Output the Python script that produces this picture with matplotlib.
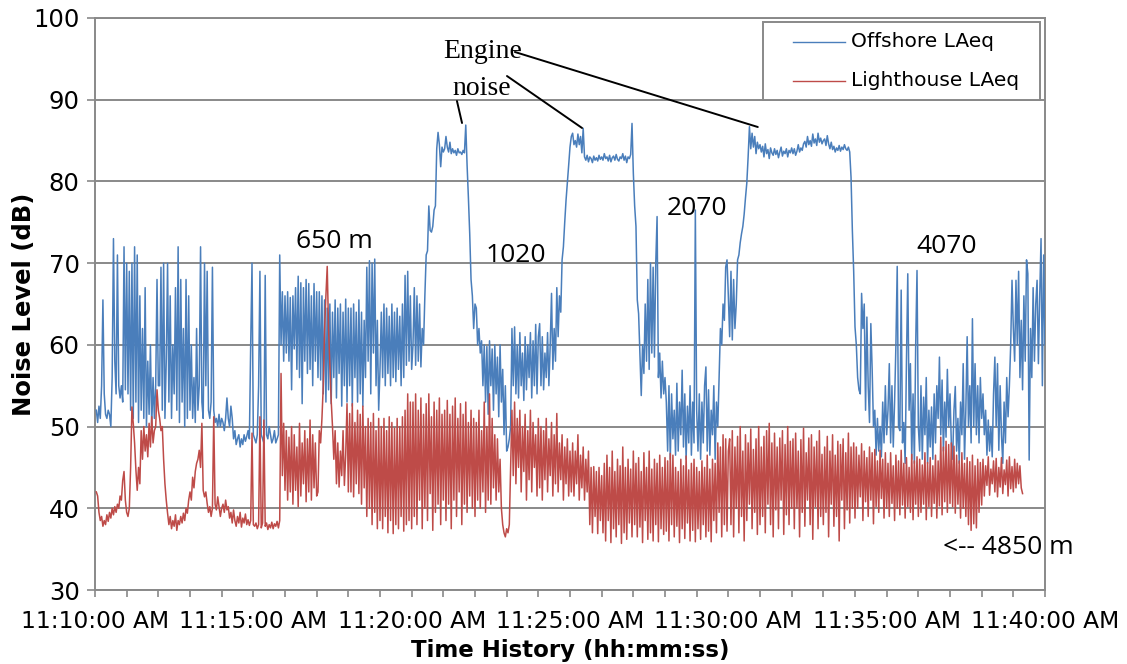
import matplotlib
matplotlib.use("Agg")
import matplotlib.pyplot as plt
import matplotlib.dates as mdates
from matplotlib.patches import Rectangle
from matplotlib.lines import Line2D
import pandas as pd

# ---------------- data (one row = one minute, 2.5 s steps) ----------------
start_time = "2013-01-01 11:10:02.5"
sample_step = "2500ms"

offshore_laeq = [
    52, 50.5, 52.5, 51, 55, 65.5, 54, 51.5, 51, 52, 51.5, 50, 56, 73, 58, 54, 71, 55, 53.5, 55, 53, 72, 54.5, 70,
    54, 69, 52, 70, 51, 72, 53, 71, 50.5, 66, 52, 62, 51, 67, 50, 58, 51.5, 60, 50, 56, 51, 55, 68, 55,
    55, 69.5, 52, 70, 51, 58, 70, 53, 66, 51, 60, 54, 67, 52, 72, 50.5, 68, 53, 62, 50, 68, 51, 66, 52,
    60, 51, 56, 50.5, 62, 52, 55, 72, 53, 51, 70, 55, 69, 52, 51, 53, 69.5, 52, 50.5, 51, 50, 51.5, 50, 51,
    50.5, 49.5, 51, 53.5, 51, 50, 52.5, 51, 48.5, 49.5, 47.8, 48.5, 49, 47.5, 48.5, 47.8, 49, 48.2, 48.8, 49.5, 48.5, 60, 70, 49,
    48.5, 48, 49, 55, 69, 49, 48.5, 48, 68.5, 49, 48.5, 50, 49, 48, 48.5, 49.5, 48, 48.5, 49, 71, 60, 66.5, 58, 66,
    59, 66.5, 58, 65.8, 54.5, 66, 59.5, 67, 57, 68.4, 56, 67.6, 52.8, 67, 58, 68, 56.5, 67.5, 57, 66, 55, 67.5, 58, 66.5,
    56, 66.5, 55.7, 66, 54, 65.5, 53, 64.5, 54.5, 65, 52.8, 64, 56, 65.5, 53.5, 64.5, 56.5, 65, 52.5, 64, 55, 65.6, 53, 64.5,
    55, 64.5, 52.5, 65, 56, 64, 53, 65.5, 54, 64, 52.5, 63, 56, 69.5, 58, 70.3, 54, 70, 59, 70.5, 55, 63, 52, 57,
    64, 56, 65, 55, 64.5, 56.5, 63.5, 55, 65, 56, 64, 55.5, 64.5, 57, 63.5, 55, 65, 56, 68.5, 57.5, 69, 58, 66, 57,
    60, 67, 57.5, 66, 58, 65, 57.3, 62, 60, 66, 71, 71.5, 77, 74, 73.8, 74.5, 76.5, 77, 84, 86, 84.5, 81.8, 84.2, 83.6,
    84, 85.5, 84.2, 83.6, 84.8, 83.4, 84, 83.5, 83.8, 83.2, 84, 83.5, 83.6, 83.3, 83.8, 83.5, 86.9, 82, 78, 73.6, 68, 66, 62, 65,
    64.5, 60, 62, 59, 60.5, 55, 60, 53, 59.8, 51.5, 60.5, 55, 59.5, 52, 60, 54, 58.5, 51.2, 60, 53, 57, 49, 55, 47,
    47.5, 48.5, 50, 62, 55, 62.2, 54, 60, 53.5, 61.5, 55, 59, 53.2, 61, 54.5, 60, 56, 61.5, 53.5, 60.5, 55, 62.5, 54, 61,
    62.6, 55, 61, 54.5, 59, 56, 61.5, 55, 60, 66.3, 57, 62, 58, 67, 61, 66, 64, 70.4, 72, 75, 77.7, 79.8, 82, 84.2,
    85.5, 85.9, 84.5, 85, 84.2, 85.8, 84.5, 85.5, 83.5, 86.5, 83, 82.6, 83.2, 82.4, 83, 82.8, 82.3, 83.1, 82.6, 82.9, 82.5, 83.2, 82.7, 83,
    82.6, 83.4, 82.8, 83, 82.5, 83.2, 82.4, 82.9, 83.1, 82.6, 83.3, 82.7, 82.5, 83, 82.8, 83.4, 82.6, 83.1, 82.3, 83, 82.8, 83.3, 87.1, 81,
    77, 74.5, 65.5, 63.8, 59, 53.8, 60, 56.5, 65, 58, 68, 57, 70, 59, 69.5, 58.5, 70, 75.7, 56, 59, 53.5, 58, 54, 56,
    53, 47, 55, 46, 54, 48.5, 52, 46.5, 55.3, 47, 53, 49, 56.9, 47.5, 54, 46, 52.5, 48, 55, 46.5, 53, 48, 76.5, 52,
    47, 54, 46, 53, 48, 55, 57.3, 47, 54.5, 46.5, 52, 49, 55, 46, 53, 50, 56, 62, 60, 65, 63, 69.5, 70.4, 66,
    61, 69, 60.6, 68, 62, 65, 70.4, 71, 72.5, 73.6, 74.5, 76, 78, 79.8, 83, 86.7, 84, 85.9, 84.2, 85.5, 83.4, 84.8, 84, 84.5,
    83.6, 84.3, 83, 84.6, 83.4, 83.9, 82.8, 84.1, 83.5, 83.2, 84, 83.3, 83.8, 82.9, 83.6, 84.2, 83.1, 83.7, 83.4, 84, 83, 83.8, 83.5, 84.1,
    83.4, 84, 83.2, 83.7, 84.5, 83.6, 84.1, 83.8, 84.6, 84.9, 84.2, 85.5, 84.5, 85, 84.3, 85.8, 84.7, 85.2, 84.4, 85.9, 84.8, 85.3, 84.6, 85,
    85.2, 84.4, 85.6, 84.6, 84, 84.8, 83.9, 84.3, 83.6, 84.1, 83.8, 84.4, 83.7, 84.2, 83.9, 84.5, 84, 83.8, 84.2, 83.6, 80.5, 74, 69, 62.2,
    60, 56, 54.5, 54, 66.3, 62, 65, 52, 63.4, 55, 50.5, 62.6, 57, 50, 52, 46.5, 51, 47, 50, 46.3, 53, 48, 55, 49,
    52, 57.7, 48, 55, 47.5, 53, 60, 69.6, 50, 49.5, 66.7, 48, 50.5, 45.5, 58, 68.7, 52, 57.7, 46, 54, 45.5, 60, 69.1, 50,
    47, 55, 46, 53.6, 49, 56, 45.5, 52, 47.5, 52.4, 46, 54, 48, 55, 51, 58.5, 49, 55.7, 47, 53, 48.7, 57, 50, 54,
    48, 46, 52, 54.9, 47, 51, 45.5, 53, 49, 57.7, 46, 52, 61, 50, 55, 48, 63.2, 50, 57.7, 49, 55, 48, 56, 51,
    54, 49, 52, 46.5, 50.8, 47, 50, 46.3, 54, 58.5, 50, 57.7, 47.1, 55, 49, 45.5, 53, 48, 56, 51.2, 55, 60, 67.9, 62,
    58, 67.9, 60, 69, 56, 63, 54.5, 66, 58, 70.4, 68.7, 45.9, 62, 56, 67, 58, 65, 67.9, 57.7, 66, 73, 55, 71, 60,
]

lighthouse_laeq = [
    42, 41.5, 39.5, 38.5, 39, 37.8, 38.5, 38, 39.2, 38.4, 39.5, 38.8, 40, 39.2, 40.2, 39.5, 40.5, 40, 41.5, 41, 43.4, 44.5, 41, 39.5,
    39, 40, 45, 52.4, 50.4, 48, 44.7, 42.2, 45, 43, 49.5, 46, 50, 47, 49, 46.3, 50.4, 47.5, 51.2, 48, 49.5, 50, 54.5, 52,
    51, 49.5, 50, 46, 43, 41, 39.4, 38, 39, 37.5, 38.5, 37.8, 39.2, 37.3, 38.5, 38, 39, 38.2, 39.4, 38.5, 40, 39.4, 41, 42,
    41, 43.8, 42.5, 44.5, 45.5, 46, 47.1, 45, 50.4, 42.2, 41.4, 42, 40.6, 39.5, 40.2, 39, 40, 51.2, 40.5, 39.8, 41.4, 40.2, 39, 40,
    40.5, 39.5, 41, 39.8, 40.2, 38.8, 39.5, 38.2, 39.8, 38.5, 37.8, 39, 38.2, 39.5, 37.7, 38.8, 38.2, 39.3, 38, 38.6, 37.9, 38.5, 49.2, 38,
    37.8, 38.2, 37.5, 38, 51.2, 37.6, 38.2, 50.8, 37.8, 38.2, 37.4, 38, 37.6, 38.3, 37.5, 38.1, 37.8, 38.4, 37.6, 38.5, 56.5, 44, 50.4, 42.2,
    49.5, 41, 48.7, 42, 50, 40.5, 49, 42.2, 47.5, 40.2, 50.4, 41.5, 48, 43, 49.5, 40.8, 48.5, 42, 50.8, 41, 49, 42.5, 48, 41.5,
    42, 49.5, 48, 51, 55, 61.8, 66, 69.6, 62, 57.7, 53.2, 50, 46, 49.5, 43, 48, 42.6, 47, 44, 49.5, 42.8, 46.5, 52.8, 42,
    51.6, 42, 52.8, 41.4, 50.5, 43, 52, 41.8, 51.5, 40.5, 52.5, 42.5, 50, 39, 51, 40, 50.5, 38, 51.6, 39.5, 49.5, 37.5, 51, 38.5,
    50, 37.5, 51, 39, 49.5, 37, 51.2, 38.5, 50.5, 36.9, 49.8, 38, 51, 37.5, 50, 39, 51.2, 37.2, 52, 38, 54, 38.5, 53, 37.5,
    53, 39, 54, 38, 52, 41, 53.5, 37.5, 51.5, 40, 52.8, 38.5, 54, 41.8, 51.2, 37.3, 53, 39.5, 52, 40.5, 53.5, 38, 51.5, 41,
    52, 38.5, 53.2, 40.5, 51.5, 37.5, 52.5, 41, 53.5, 39, 51, 42, 52.8, 38, 51.5, 40.5, 53, 39.5, 50.5, 41.5, 52, 40, 51, 39,
    50.5, 41, 52, 40, 49.5, 42, 53, 39.5, 50, 41, 54, 40.5, 51, 42.5, 49, 41, 48.5, 42, 46, 40, 38, 37, 36.5, 37.5,
    37, 38, 45, 52, 44, 53, 43, 51, 45, 52, 42, 50, 44.5, 51.5, 41, 49.5, 43.5, 52, 42, 50.5, 45, 49, 41.5, 51,
    42.5, 50, 41, 49.5, 43.5, 51, 42, 48.5, 44, 50.5, 41.5, 49, 43, 51.6, 42, 48, 43.5, 49, 41, 47.5, 43, 48.5, 41.5, 47,
    42, 48, 41.5, 47, 43, 49, 41, 46.5, 42.5, 47.5, 41, 46, 42, 47, 38, 45, 37, 45.1, 39, 44.5, 36.9, 45, 38.5, 44,
    37, 45.5, 36, 46.5, 38.5, 45, 35.8, 47, 37.5, 44.5, 36.5, 46, 38, 45.2, 35.7, 47.5, 37, 45, 36.2, 46, 38.2, 44.8, 36.5, 47,
    38, 45.5, 36.5, 46.2, 37.7, 44.5, 35.8, 46.8, 38.5, 45, 36.2, 47, 37, 44.8, 36, 46, 38, 45.5, 35.9, 46.5, 37.5, 45, 36.8, 46.2,
    37.2, 45.8, 36, 46.7, 38, 46.5, 36.5, 45, 37.8, 44.5, 35.8, 46, 37.5, 45.2, 36.3, 46.4, 38.2, 44.7, 36, 45.5, 37.3, 46, 35.9, 45,
    37.5, 44.5, 36.2, 45.8, 38, 45, 36.5, 46.5, 37.2, 44.8, 35.9, 46, 38.5, 45.5, 37, 48, 39.5, 47.5, 36.5, 49, 38, 48.5, 37.2, 47,
    48.5, 38, 49.5, 36.5, 47.5, 40, 48.8, 37, 50, 39, 47, 36, 49, 38.5, 48, 40.5, 49.7, 37.5, 47.2, 39.5, 48.5, 36.8, 50, 38,
    47.5, 39, 48.8, 37, 49.5, 40.5, 50.4, 38, 48, 36.5, 49.2, 39.8, 47.5, 37.5, 48.6, 41, 49.5, 36.8, 47.8, 39.2, 50, 38, 48.2, 40,
    48.5, 37.5, 49.2, 40, 47, 36.5, 48.4, 39.5, 49.8, 37.8, 46.8, 41, 48.6, 38, 49, 36.2, 47.5, 40.2, 48.2, 37.5, 49.5, 39, 46.6, 38,
    47.5, 39.5, 48.8, 36.5, 47, 40.5, 49, 37.8, 46.5, 39, 48.2, 36, 47.8, 41, 48.5, 37.5, 46.8, 39.8, 49.2, 38.2, 47.5, 40, 48, 38.8,
    47.5, 40, 46.5, 41.4, 47.9, 38.5, 47, 40.8, 46.2, 39, 47.5, 41, 46.8, 38.1, 47.2, 40.2, 45.8, 39.5, 47.1, 41.2, 46, 38.8, 46.8, 40,
    45.5, 39, 46.8, 40.6, 45.2, 38.5, 46.5, 40, 45.8, 39.2, 47.1, 40.4, 45.5, 38.8, 46.2, 40.2, 45, 39.5, 46.6, 38.6, 45.8, 40.5, 46.3, 39,
    46, 39.5, 45.3, 40.5, 46.8, 38.6, 45.6, 40.2, 46.2, 39, 45.2, 40.6, 46.5, 38.8, 45.8, 40.3, 48.7, 39.2, 47.5, 40.8, 48.2, 39.5, 47.8, 40.6,
    48, 40.2, 47.6, 39.4, 46.5, 40.5, 45.8, 38.8, 46.8, 40, 45.5, 39, 46.2, 38, 45.7, 37.3, 46.5, 38.1, 45.2, 37.6, 46, 39.5, 45.6, 40.4,
    46, 41.5, 45.2, 42.8, 46.3, 41.6, 44.8, 43, 45.8, 42, 46.1, 41.4, 45, 42.6, 46.2, 41.8, 44.7, 42.9, 45.9, 41.5, 46.3, 42.4, 45.1, 42,
    46, 42.5, 45.5, 43, 45.2, 42.5, 41.8,
]

series_labels = ["Offshore LAeq", "Lighthouse LAeq"]
series_colors = ["#4a7ebb", "#be4b48"]
distance_labels = ["650 m", "1020", "2070", "4070", "<-- 4850 m"]
engine_words = ["Engine", "noise"]

# ---------------- figure ----------------
fig = plt.figure(figsize=(11.27, 6.64), dpi=100)
ax = fig.add_axes([95 / 1127, 1 - 590 / 664, 950 / 1127, 572 / 664])

t_off = pd.date_range(start_time, periods=len(offshore_laeq), freq=sample_step)
t_lh = pd.date_range(start_time, periods=len(lighthouse_laeq), freq=sample_step)

ax.plot(t_off, offshore_laeq, color=series_colors[0], lw=1.1, zorder=3)
ax.plot(t_lh, lighthouse_laeq, color=series_colors[1], lw=1.1, zorder=4)

base = pd.Timestamp("2013-01-01 11:10:00")


def tm(minutes):
    return mdates.date2num(base + pd.Timedelta(minutes=minutes))


ax.set_xlim(tm(0), tm(30))
ax.set_ylim(30, 100)
ax.set_yticks(range(30, 101, 10))

ax.xaxis.set_major_locator(mdates.MinuteLocator(byminute=range(0, 60, 5)))
ax.xaxis.set_minor_locator(mdates.MinuteLocator())
ax.xaxis.set_major_formatter(mdates.DateFormatter("%I:%M:%S %p"))

gray = "#898989"
ax.grid(axis="y", color=gray, lw=1.4, zorder=1)
for s in ax.spines.values():
    s.set_color(gray)
    s.set_linewidth(1.4)

ax.tick_params(axis="y", which="major", direction="out", length=6, width=1.2,
               color=gray, pad=5, labelsize=17.5)
ax.tick_params(axis="x", which="both", direction="out", length=5, width=1.2,
               color=gray, pad=9.5, labelsize=16.8)
for lab in ax.get_xticklabels() + ax.get_yticklabels():
    lab.set_family("DejaVu Sans")

ax.set_ylabel("Noise Level (dB)", family="DejaVu Sans", fontsize=17.5, fontweight="bold")
ax.set_xlabel("Time History (hh:mm:ss)", family="DejaVu Sans", fontsize=16.5, fontweight="bold")
ax.yaxis.set_label_coords((24 - 95) / 950, 0.5)
ax.yaxis.label.set_va("center")
ax.xaxis.set_label_coords(0.5, -(651 - 590) / 572)
ax.xaxis.label.set_va("center")

# distance labels
dist_pos = [(7.55, 71.85, "center"), (13.29, 70.13, "center"), (19.01, 75.89, "center"),
            (26.90, 71.24, "center"), (26.78, 34.4, "left")]
for txt, (mx, yv, ha) in zip(distance_labels, dist_pos):
    ax.text(tm(mx), yv, txt, family="Open Sans", fontsize=19, ha=ha, va="baseline",
            zorder=6)

# engine noise annotation
ax.text(tm(10.99), 95.1, engine_words[0], family="Liberation Serif", fontsize=20,
        ha="left", va="baseline", zorder=6)
ax.text(tm(11.30), 90.57, engine_words[1], family="Liberation Serif", fontsize=20,
        ha="left", va="baseline", zorder=6)
pointer_lines = [((11.43, 89.84), (11.59, 87.15)),
                 ((13.01, 92.90), (15.38, 86.54)),
                 ((13.26, 95.84), (20.93, 86.66))]
for (m0, y0), (m1, y1) in pointer_lines:
    ax.annotate("", xy=(tm(m1), y1), xytext=(tm(m0), y0),
                arrowprops=dict(arrowstyle="-", color="black", lw=1.4,
                                shrinkA=0, shrinkB=0), zorder=6)

# legend (drawn manually to match the reference box)
x0 = (763 - 95) / 950
x1 = (1040 - 95) / 950
y0 = (590 - 100) / 572
y1 = (590 - 22) / 572
ax.add_patch(Rectangle((x0, y0), x1 - x0, y1 - y0, transform=ax.transAxes,
                       facecolor="white", edgecolor=gray, lw=1.4, zorder=7))
rows = [(590 - 42) / 572, (590 - 81) / 572]
for lbl, col, ry in zip(series_labels, series_colors, rows):
    ax.add_line(Line2D([(793 - 95) / 950, (845 - 95) / 950], [ry, ry],
                       transform=ax.transAxes, color=col, lw=1.0, zorder=8))
    ax.text((851 - 95) / 950, ry, lbl, transform=ax.transAxes, family="DejaVu Sans",
            fontsize=14.5, ha="left", va="center", zorder=8)

fig.savefig("out.png", dpi=100)
